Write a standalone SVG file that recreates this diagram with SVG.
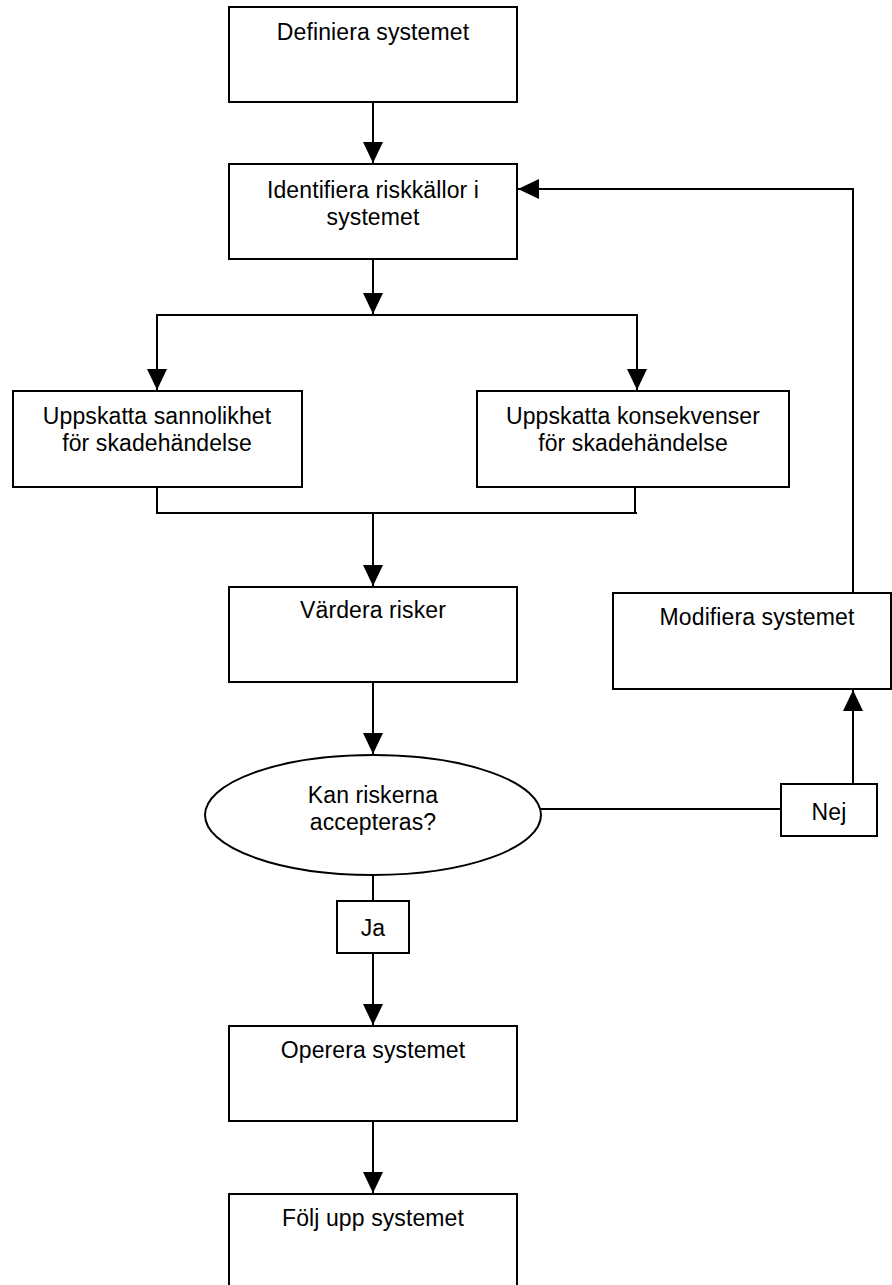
<svg xmlns="http://www.w3.org/2000/svg" width="892" height="1285" viewBox="0 0 892 1285">
<style>
.box{fill:#fff;stroke:#000;stroke-width:2}
.ln{fill:none;stroke:#000;stroke-width:2}
.t{font-family:"Liberation Sans",Arial,sans-serif;font-size:23px;fill:#000;text-anchor:middle;letter-spacing:0.1px}
</style>
<defs>
<marker id="ah" markerUnits="userSpaceOnUse" markerWidth="22" markerHeight="20" refX="21" refY="10" orient="auto">
<path d="M0,0 L21,10 L0,20 Z" fill="#000"/>
</marker>
</defs>
<rect width="892" height="1285" fill="#fff"/>
<g id="connectors">
<line class="ln" x1="373" y1="102" x2="373" y2="163" marker-end="url(#ah)"/>
<line class="ln" x1="373" y1="259" x2="373" y2="314" marker-end="url(#ah)"/>
<polyline class="ln" points="157,390 157,315 637,315 637,390"/>
<line class="ln" x1="157" y1="330" x2="157" y2="390" marker-end="url(#ah)"/>
<line class="ln" x1="637" y1="330" x2="637" y2="390" marker-end="url(#ah)"/>
<polyline class="ln" points="157,487 157,513 637,513"/>
<line class="ln" x1="635" y1="487" x2="635" y2="513"/>
<line class="ln" x1="373" y1="513" x2="373" y2="586" marker-end="url(#ah)"/>
<line class="ln" x1="373" y1="682" x2="373" y2="754" marker-end="url(#ah)"/>
<line class="ln" x1="541" y1="809" x2="781" y2="809"/>
<line class="ln" x1="853" y1="784" x2="853" y2="690" marker-end="url(#ah)"/>
<polyline class="ln" points="853,593 853,189 540,189"/>
<line class="ln" x1="853" y1="189" x2="518" y2="189" marker-end="url(#ah)"/>
<line class="ln" x1="373" y1="875" x2="373" y2="901"/>
<line class="ln" x1="373" y1="953" x2="373" y2="1025" marker-end="url(#ah)"/>
<line class="ln" x1="373" y1="1121" x2="373" y2="1193" marker-end="url(#ah)"/>
</g>
<g id="n1"><rect class="box" x="229" y="7" width="288" height="95"/><text class="t" x="373" y="40">Definiera systemet</text></g>
<g id="n2"><rect class="box" x="229" y="164" width="288" height="95"/><text class="t" x="373" y="198">Identifiera riskkällor i</text><text class="t" x="373" y="225">systemet</text></g>
<g id="n3"><rect class="box" x="13" y="391" width="289" height="96"/><text class="t" x="157" y="424">Uppskatta sannolikhet</text><text class="t" x="157" y="451">för skadehändelse</text></g>
<g id="n4"><rect class="box" x="477" y="391" width="312" height="96"/><text class="t" x="633" y="424">Uppskatta konsekvenser</text><text class="t" x="633" y="451">för skadehändelse</text></g>
<g id="n5"><rect class="box" x="229" y="587" width="288" height="95"/><text class="t" x="373" y="618">Värdera risker</text></g>
<g id="n6"><rect class="box" x="613" y="593" width="278" height="96"/><text class="t" x="757" y="625">Modifiera systemet</text></g>
<g id="n7"><ellipse class="box" cx="373" cy="815" rx="168" ry="60"/><text class="t" x="373" y="803">Kan riskerna</text><text class="t" x="373" y="830">accepteras?</text></g>
<g id="n8"><rect class="box" x="781" y="784" width="96" height="52"/><text class="t" x="829" y="820">Nej</text></g>
<g id="n9"><rect class="box" x="337" y="901" width="72" height="52"/><text class="t" x="373" y="936">Ja</text></g>
<g id="n10"><rect class="box" x="229" y="1026" width="288" height="95"/><text class="t" x="373" y="1058">Operera systemet</text></g>
<g id="n11"><rect class="box" x="229" y="1194" width="288" height="110"/><text class="t" x="373" y="1226">Följ upp systemet</text></g>
</svg>
